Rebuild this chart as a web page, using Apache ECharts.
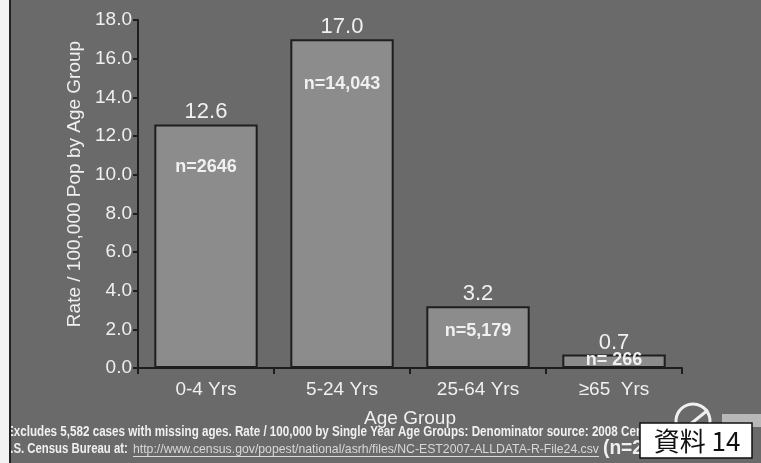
<!DOCTYPE html>
<html>
<head>
<meta charset="utf-8">
<script src="https://cdn.jsdelivr.net/npm/echarts@6/dist/echarts.min.js"></script>
<style>
  html, body { margin: 0; padding: 0; background: #6a6a6a; }
  #chart { width: 761px; height: 463px; }
</style>
</head>
<body>
<div id="chart"></div>
<script>
// Age groups and rate per 100,000 population
const categories = ['0-4 Yrs', '5-24 Yrs', '25-64 Yrs', '\u226565  Yrs'];
const rates = [12.6, 17.0, 3.2, 0.7];
const caseCounts = ['n=2646', 'n=14,043', 'n=5,179', 'n= 266'];
const yTickMin = 0;
const yTickMax = 18;
const yTickStep = 2;

const yAxisTitle = 'Rate / 100,000 Pop by Age Group';
const xAxisTitle = 'Age Group';
const footnote1 = 'Excludes 5,582 cases with missing ages. Rate / 100,000 by Single Year Age Groups: Denominator source: 2008 Census';
const sourcePrefix = 'U.S. Census Bureau at: ';
const sourceUrl = 'http://www.census.gov/popest/national/asrh/files/NC-EST2007-ALLDATA-R-File24.csv';
const sourceTail = '(n=2';
const badgeText = '\u8cc7\u6599 14';

const FONT = '"Liberation Sans", Arial, sans-serif';
const TEXT = '#f0f0f0';

// distance of each count label below its bar top, in px
const countLabelDrop = [43, 45, 25, 6];

// measure text so a line can be squeezed into a fixed span
const measureCtx = document.createElement('canvas').getContext('2d');
function textWidth(text, font) {
  measureCtx.font = font;
  return measureCtx.measureText(text).width;
}
function fitText(text, x, y, width, font, color, fitUpTo) {
  const ref = fitUpTo ? text.slice(0, text.indexOf(fitUpTo) + fitUpTo.length) : text;
  return {
    type: 'text',
    x: x, y: y,
    scaleX: width / textWidth(ref, font),
    style: { text: text, font: font, fill: color, textVerticalAlign: 'middle' },
    z: 10
  };
}

const chart = echarts.init(document.getElementById('chart'), null, { renderer: 'canvas' });

const option = {
  backgroundColor: '#6a6a6a',
  animation: false,
  grid: { left: 138, right: 79, top: 20, bottom: 95 },
  xAxis: {
    type: 'category',
    data: categories,
    name: xAxisTitle,
    nameLocation: 'middle',
    nameGap: 41,
    nameTextStyle: { color: TEXT, fontSize: 19, fontFamily: FONT },
    axisLine: { lineStyle: { color: '#1e1e1e', width: 2 } },
    axisTick: { show: true, length: 6, lineStyle: { color: '#1e1e1e', width: 2 } },
    axisLabel: { color: TEXT, fontSize: 19, fontFamily: FONT, margin: 12 }
  },
  yAxis: {
    type: 'value',
    min: yTickMin,
    max: yTickMax,
    interval: yTickStep,
    axisLine: { show: true, lineStyle: { color: '#1e1e1e', width: 2 } },
    axisTick: { show: true, length: 5, lineStyle: { color: '#1e1e1e', width: 2 } },
    splitLine: { show: false },
    axisLabel: {
      color: TEXT, fontSize: 19, fontFamily: FONT, margin: 6,
      formatter: v => v.toFixed(1)
    }
  },
  series: [
    {
      type: 'bar',
      data: rates,
      barWidth: '76%',
      itemStyle: { color: '#8c8c8c', borderColor: '#1e1e1e', borderWidth: 2 },
      label: {
        show: true,
        position: 'top',
        distance: 1,
        color: TEXT,
        fontSize: 22,
        fontFamily: FONT,
        formatter: p => p.value.toFixed(1)
      },
      z: 2
    },
    {
      type: 'bar',
      data: rates.map((v, i) => ({
        value: v,
        label: { position: ['50%', countLabelDrop[i]] }
      })),
      barWidth: '76%',
      barGap: '-100%',
      silent: true,
      itemStyle: { color: 'transparent' },
      label: {
        show: true,
        align: 'center',
        verticalAlign: 'middle',
        color: TEXT,
        fontSize: 18,
        fontWeight: 'bold',
        fontFamily: FONT,
        formatter: p => caseCounts[p.dataIndex]
      },
      z: 3
    }
  ],
  graphic: [
    // vertical axis title
    {
      type: 'text', x: 75, y: 184, rotation: Math.PI / 2,
      style: { text: yAxisTitle, font: '19px ' + FONT, fill: TEXT, textAlign: 'center', textVerticalAlign: 'middle' },
      z: 10
    },
    // footnotes
    fitText(footnote1, 6, 432, 637, 'bold 14px ' + FONT, TEXT, '2008 Cen'),
    fitText(sourcePrefix, 2, 449, 129, 'bold 14px ' + FONT, TEXT),
    fitText(sourceUrl, 133, 449, 466, '13px ' + FONT, '#d8d8d8'),
    { type: 'line', shape: { x1: 133, y1: 456.5, x2: 599, y2: 456.5 }, style: { stroke: '#d8d8d8', lineWidth: 1 }, z: 10 },
    fitText(sourceTail, 603, 448, 40, 'bold 21px ' + FONT, TEXT),
    // logo fragments
    { type: 'arc', shape: { cx: 693, cy: 421, r: 17, startAngle: Math.PI * 0.9, endAngle: Math.PI * 2.15 }, style: { stroke: '#f0f0f0', lineWidth: 3, fill: null }, z: 10 },
    { type: 'line', shape: { x1: 688, y1: 426, x2: 708, y2: 410 }, style: { stroke: '#f0f0f0', lineWidth: 3 }, z: 10 },
    { type: 'rect', shape: { x: 722, y: 414, width: 39, height: 13 }, style: { fill: '#b8b8b8' }, z: 10 },
    // badge
    { type: 'rect', shape: { x: 640, y: 423, width: 112, height: 35 }, style: { fill: '#ffffff', stroke: '#111111', lineWidth: 1.5 }, z: 20 },
    { type: 'text', x: 697, y: 441, style: { text: badgeText, font: '26px "Noto Sans CJK JP", sans-serif', fill: '#111111', textAlign: 'center', textVerticalAlign: 'middle' }, z: 21 },
    // left margin strip
    { type: 'rect', shape: { x: 0, y: 0, width: 9, height: 463 }, style: { fill: '#f2f2f2' }, z: 30 },
    { type: 'line', shape: { x1: 10, y1: 0, x2: 10, y2: 463 }, style: { stroke: '#222222', lineWidth: 2 }, z: 30 }
  ]
};

chart.setOption(option);
</script>
</body>
</html>
